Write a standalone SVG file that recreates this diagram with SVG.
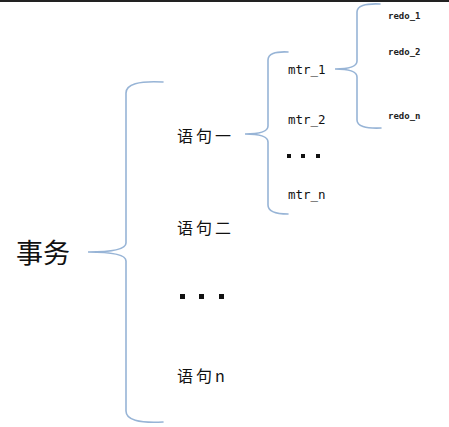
<svg xmlns="http://www.w3.org/2000/svg" width="449" height="427" viewBox="0 0 449 427">
<style>
.brace{fill:none;stroke:#97b4d6;stroke-width:1.6;stroke-linecap:round}
.cn{font-family:"Noto Sans CJK SC","Noto Sans",sans-serif;fill:#111}
.mono{font-family:"DejaVu Sans Mono","Liberation Mono",monospace;fill:#111}
.small{font-weight:bold;fill:#222}
.dot{fill:#111}
</style>
<rect width="449" height="427" fill="#ffffff"/>
<rect x="0" y="0" width="449" height="2" fill="#222"/>
<g id="connectors">
<path class="brace" d="M163,82 Q126,80 126,93 L126,243 Q126,252 88,252 Q126,252 126,261 L126,411 Q126,424 163,422"/>
<path class="brace" d="M288,52 Q268,51 268,60 L268,126 Q268,134 245,134 Q268,134 268,142 L268,205 Q268,214 288,214"/>
<path class="brace" d="M380,4 Q357,3 357,12 L357,61 Q357,69 335,69 Q357,69 357,77 L357,120 Q357,129 381,128"/>
</g>
<g id="n-tx"><text class="cn" x="16" y="263" font-size="27">事务</text></g>
<g id="n-s1"><text class="cn" x="177" y="142" font-size="16" letter-spacing="3">语句一</text></g>
<g id="n-s2"><text class="cn" x="177" y="234" font-size="16" letter-spacing="3">语句二</text></g>
<g id="n-sdots"><rect class="dot" x="180" y="294" width="5" height="5"/><rect class="dot" x="199" y="294" width="5" height="5"/><rect class="dot" x="219" y="294" width="5" height="5"/></g>
<g id="n-sn"><text class="cn" x="177" y="382" font-size="16" letter-spacing="3">语句n</text></g>
<g id="n-m1"><text class="mono" x="288" y="74" font-size="12.5">mtr_1</text></g>
<g id="n-m2"><text class="mono" x="288" y="124" font-size="12.5">mtr_2</text></g>
<g id="n-mdots"><rect class="dot" x="287" y="154" width="4" height="4"/><rect class="dot" x="301" y="154" width="4" height="4"/><rect class="dot" x="316" y="154" width="4" height="4"/></g>
<g id="n-mn"><text class="mono" x="288" y="199" font-size="12.5">mtr_n</text></g>
<g id="n-r1"><text class="mono small" x="388" y="19" font-size="9">redo_1</text></g>
<g id="n-r2"><text class="mono small" x="388" y="55" font-size="9">redo_2</text></g>
<g id="n-rn"><text class="mono small" x="388" y="119" font-size="9">redo_n</text></g>
</svg>
